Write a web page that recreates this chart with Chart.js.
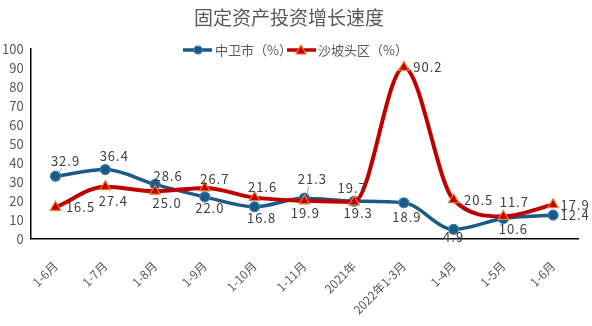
<!DOCTYPE html>
<html>
<head>
<meta charset="utf-8">
<script src="https://cdn.jsdelivr.net/npm/chart.js@4"></script>
<style>
  html, body { margin: 0; padding: 0; background: #fff; }
  #wrap { width: 592px; height: 326px; }
</style>
</head>
<body>
<div id="wrap"><canvas id="growthChart" width="592" height="326"></canvas></div>
<script>
// 数据
const categories = ['1-6月', '1-7月', '1-8月', '1-9月', '1-10月', '1-11月', '2021年', '2022年1-3月', '1-4月', '1-5月', '1-6月'];
const zhongweiValues = [32.9, 36.4, 28.6, 22.0, 16.8, 21.3, 19.7, 18.9, 4.9, 10.6, 12.4];
const shapotouValues = [16.5, 27.4, 25.0, 26.7, 21.6, 19.9, 19.3, 90.2, 20.5, 11.7, 17.9];
const seriesNames = ['中卫市（%）', '沙坡头区（%）'];
const chartTitle = '固定资产投资增长速度';

const BLUE = '#1B5A86';
const RED = '#C00000';
const FONT = '"Noto Sans CJK SC", "Noto Sans", sans-serif';

// 标签偏移 (dx, dy)，只是位置
const labelOffsets = [
    [[10, -15], [9, -13], [13, -8], [5, 11], [7, 11], [8, -19], [-2, -13], [3, 14], [0, 8], [10, 11], [22, 0]],
    [[25, 0], [8, 14], [12, 12], [10, -9], [8, -11], [1, 12], [4, 11], [24, 0], [25, 0], [11, -14], [22, 0]]
];
const leaderLines = [[0, 5], []];

// 自定义插件：数据标签 + 图例
const labelPlugin = {
    id: 'labelPlugin',
    afterDatasetsDraw(chart) {
        const ctx = chart.ctx;
        ctx.save();
        ctx.font = '13px ' + FONT;
        ctx.fillStyle = '#404040';
        ctx.textAlign = 'center';
        ctx.textBaseline = 'middle';
        ctx.letterSpacing = '1px';
        chart.data.datasets.forEach((ds, di) => {
            const meta = chart.getDatasetMeta(di);
            meta.data.forEach((pt, i) => {
                const [dx, dy] = labelOffsets[di][i];
                const x = pt.x + dx, y = pt.y + dy;
                if (leaderLines[di].includes(i)) {
                    ctx.save();
                    ctx.strokeStyle = '#A6A6A6';
                    ctx.lineWidth = 1;
                    ctx.beginPath();
                    ctx.moveTo(pt.x + 3, pt.y - 3);
                    ctx.lineTo(x - 4, y + 7);
                    ctx.stroke();
                    ctx.restore();
                }
                ctx.fillText(ds.data[i].toFixed(1), x, y);
            });
        });
        ctx.restore();
    },
    afterDraw(chart) {
        const ctx = chart.ctx;
        ctx.save();
        ctx.font = '13px ' + FONT;
        ctx.textBaseline = 'middle';
        ctx.fillStyle = '#595959';
        const y = 50;
        // 中卫市
        ctx.strokeStyle = BLUE;
        ctx.lineWidth = 3.5;
        ctx.beginPath(); ctx.moveTo(183, y); ctx.lineTo(212, y); ctx.stroke();
        ctx.fillStyle = BLUE;
        ctx.strokeStyle = '#3C7DB0';
        ctx.lineWidth = 1.2;
        ctx.beginPath(); ctx.arc(198, y, 4, 0, Math.PI * 2); ctx.fill(); ctx.stroke();
        ctx.fillStyle = '#595959';
        ctx.fillText(seriesNames[0], 215, y);
        // 沙坡头区
        ctx.strokeStyle = RED;
        ctx.lineWidth = 3.5;
        ctx.beginPath(); ctx.moveTo(287, y); ctx.lineTo(316, y); ctx.stroke();
        ctx.fillStyle = RED;
        ctx.strokeStyle = '#ED7D31';
        ctx.lineWidth = 1.2;
        ctx.beginPath();
        ctx.moveTo(301, y - 5); ctx.lineTo(306, y + 4); ctx.lineTo(296, y + 4); ctx.closePath();
        ctx.fill(); ctx.stroke();
        ctx.fillStyle = '#595959';
        ctx.fillText(seriesNames[1], 318, y);
        ctx.restore();
    }
};

const config = {
    type: 'line',
    data: {
        labels: categories,
        datasets: [
            {
                label: seriesNames[0],
                data: zhongweiValues,
                borderColor: BLUE,
                borderWidth: 3.5,
                backgroundColor: BLUE,
                pointStyle: 'circle',
                pointRadius: 5,
                pointBackgroundColor: BLUE,
                pointBorderColor: '#3C7DB0',
                pointBorderWidth: 1.2,
                cubicInterpolationMode: 'monotone',
                order: 1
            },
            {
                label: seriesNames[1],
                data: shapotouValues,
                borderColor: RED,
                borderWidth: 4,
                backgroundColor: RED,
                pointStyle: 'triangle',
                pointRadius: 6,
                pointBackgroundColor: RED,
                pointBorderColor: '#ED7D31',
                pointBorderWidth: 1.2,
                cubicInterpolationMode: 'monotone',
                order: 0
            }
        ]
    },
    options: {
        responsive: false,
        animation: false,
        layout: {
            padding: { left: 0, right: 14, top: 0, bottom: 0 }
        },
        plugins: {
            legend: { display: false },
            tooltip: { enabled: false },
            title: {
                display: true,
                text: chartTitle,
                color: '#595959',
                font: { family: FONT, size: 19, weight: 'normal' },
                padding: { top: 6, bottom: 20 }
            }
        },
        scales: {
            x: {
                offset: true,
                grid: { display: false },
                border: { display: true, color: '#000', width: 1.5 },
                ticks: {
                    color: '#595959',
                    font: { family: FONT, size: 12 },
                    minRotation: 45,
                    maxRotation: 45,
                    padding: 12
                },
                afterFit(scale) {
                    scale.paddingLeft = 0;
                    scale.height -= 3;
                }
            },
            y: {
                min: 0,
                max: 100,
                grid: { display: false, drawTicks: false },
                border: { display: true, color: '#000', width: 1.5 },
                ticks: {
                    stepSize: 10,
                    autoSkip: false,
                    color: '#595959',
                    font: { family: FONT, size: 13 },
                    padding: 7
                },
                afterFit(scale) {
                    scale.width -= 5;
                }
            }
        }
    },
    plugins: [labelPlugin]
};

new Chart(document.getElementById('growthChart').getContext('2d'), config);
</script>
</body>
</html>
